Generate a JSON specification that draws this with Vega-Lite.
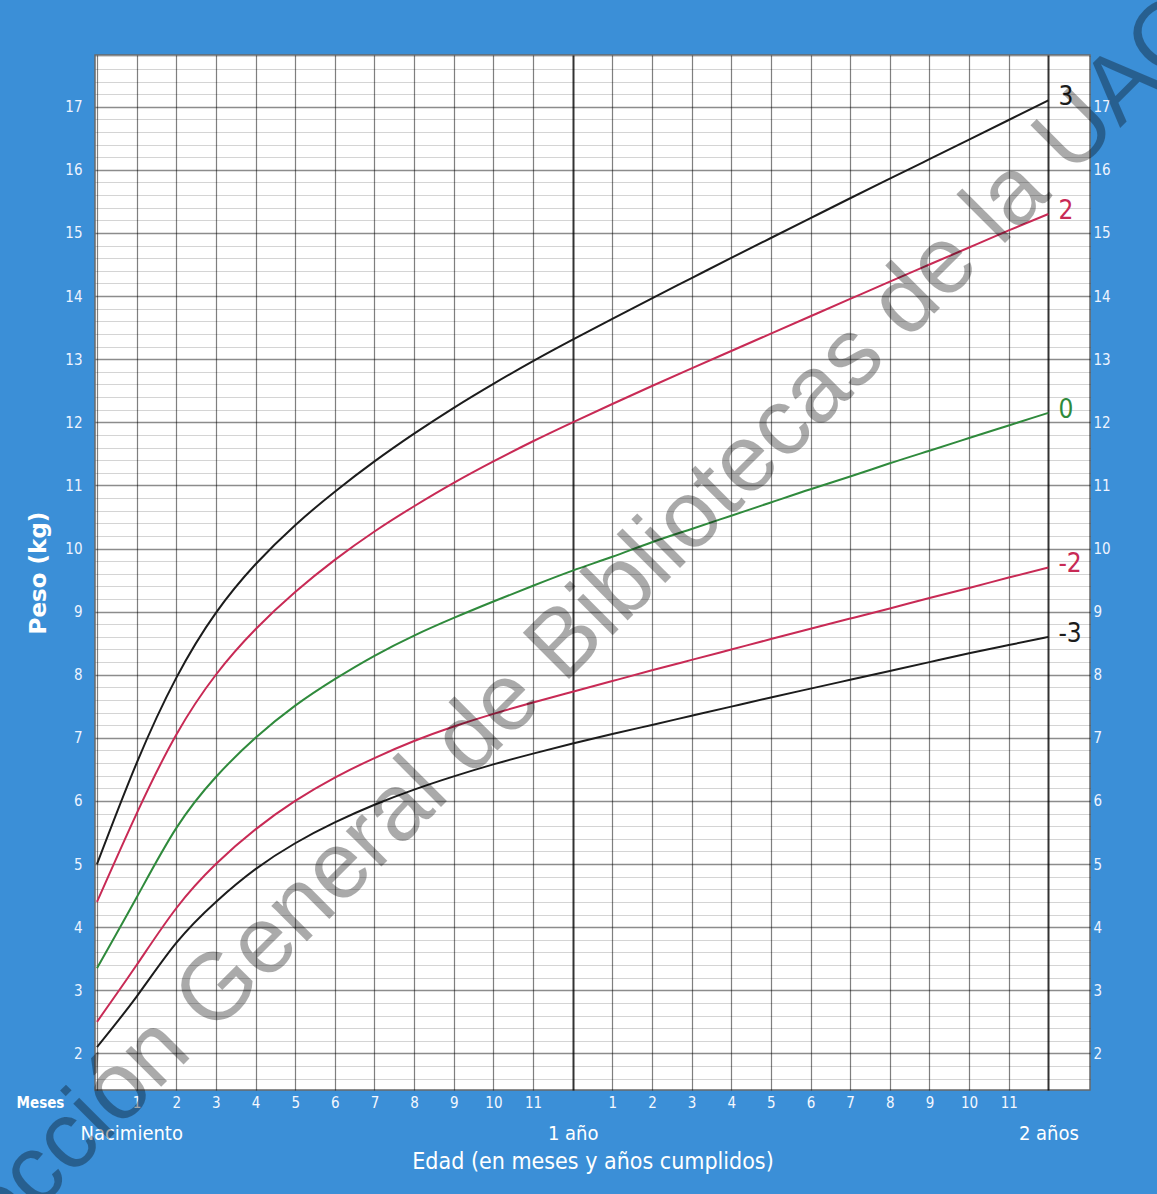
{
  "$schema": "https://vega.github.io/schema/vega-lite/v6.json",
  "autosize": "none",
  "width": 995,
  "height": 1035,
  "padding": {"left": 95, "top": 55, "right": 67, "bottom": 104},
  "background": "#3b8fd7",
  "config": {
    "view": {"fill": "white", "stroke": "#6a6a6a", "strokeWidth": 1.5},
    "font": "Liberation Sans Narrow, DejaVu Sans Condensed, sans-serif",
    "axis": {"labelFont": "Liberation Sans Narrow, DejaVu Sans Condensed, sans-serif", "titleFont": "Liberation Sans Narrow, DejaVu Sans Condensed, sans-serif"}
  },
  "datasets": {
    "curves": [
      {"m":0,"z":"-3","w":2.1},{"m":0,"z":"-2","w":2.5},{"m":0,"z":"0","w":3.35},{"m":0,"z":"2","w":4.4},{"m":0,"z":"3","w":5.0},
      {"m":1,"z":"-3","w":2.9},{"m":1,"z":"-2","w":3.4},{"m":1,"z":"0","w":4.47},{"m":1,"z":"2","w":5.8},{"m":1,"z":"3","w":6.6},
      {"m":2,"z":"-3","w":3.75},{"m":2,"z":"-2","w":4.3},{"m":2,"z":"0","w":5.57},{"m":2,"z":"2","w":7.05},{"m":2,"z":"3","w":7.95},
      {"m":3,"z":"-3","w":4.4},{"m":3,"z":"-2","w":5.0},{"m":3,"z":"0","w":6.38},{"m":3,"z":"2","w":8.0},{"m":3,"z":"3","w":8.98},
      {"m":4,"z":"-3","w":4.92},{"m":4,"z":"-2","w":5.55},{"m":4,"z":"0","w":7.0},{"m":4,"z":"2","w":8.72},{"m":4,"z":"3","w":9.75},
      {"m":5,"z":"-3","w":5.33},{"m":5,"z":"-2","w":6.0},{"m":5,"z":"0","w":7.51},{"m":5,"z":"2","w":9.31},{"m":5,"z":"3","w":10.37},
      {"m":6,"z":"-3","w":5.66},{"m":6,"z":"-2","w":6.37},{"m":6,"z":"0","w":7.93},{"m":6,"z":"2","w":9.82},{"m":6,"z":"3","w":10.9},
      {"m":7,"z":"-3","w":5.94},{"m":7,"z":"-2","w":6.68},{"m":7,"z":"0","w":8.3},{"m":7,"z":"2","w":10.27},{"m":7,"z":"3","w":11.38},
      {"m":8,"z":"-3","w":6.18},{"m":8,"z":"-2","w":6.95},{"m":8,"z":"0","w":8.62},{"m":8,"z":"2","w":10.67},{"m":8,"z":"3","w":11.82},
      {"m":9,"z":"-3","w":6.39},{"m":9,"z":"-2","w":7.18},{"m":9,"z":"0","w":8.9},{"m":9,"z":"2","w":11.04},{"m":9,"z":"3","w":12.23},
      {"m":10,"z":"-3","w":6.58},{"m":10,"z":"-2","w":7.38},{"m":10,"z":"0","w":9.16},{"m":10,"z":"2","w":11.38},{"m":10,"z":"3","w":12.61},
      {"m":11,"z":"-3","w":6.75},{"m":11,"z":"-2","w":7.56},{"m":11,"z":"0","w":9.41},{"m":11,"z":"2","w":11.7},{"m":11,"z":"3","w":12.97},
      {"m":12,"z":"-3","w":6.91},{"m":12,"z":"-2","w":7.73},{"m":12,"z":"0","w":9.65},{"m":12,"z":"2","w":12.0},{"m":12,"z":"3","w":13.31},
      {"m":13,"z":"-3","w":7.06},{"m":13,"z":"-2","w":7.9},{"m":13,"z":"0","w":9.87},{"m":13,"z":"2","w":12.29},{"m":13,"z":"3","w":13.64},
      {"m":14,"z":"-3","w":7.205},{"m":14,"z":"-2","w":8.07},{"m":14,"z":"0","w":10.1},{"m":14,"z":"2","w":12.575},{"m":14,"z":"3","w":13.965},
      {"m":15,"z":"-3","w":7.35},{"m":15,"z":"-2","w":8.235},{"m":15,"z":"0","w":10.31},{"m":15,"z":"2","w":12.855},{"m":15,"z":"3","w":14.285},
      {"m":16,"z":"-3","w":7.495},{"m":16,"z":"-2","w":8.4},{"m":16,"z":"0","w":10.52},{"m":16,"z":"2","w":13.13},{"m":16,"z":"3","w":14.605},
      {"m":17,"z":"-3","w":7.64},{"m":17,"z":"-2","w":8.565},{"m":17,"z":"0","w":10.73},{"m":17,"z":"2","w":13.405},{"m":17,"z":"3","w":14.92},
      {"m":18,"z":"-3","w":7.78},{"m":18,"z":"-2","w":8.73},{"m":18,"z":"0","w":10.94},{"m":18,"z":"2","w":13.68},{"m":18,"z":"3","w":15.235},
      {"m":19,"z":"-3","w":7.92},{"m":19,"z":"-2","w":8.89},{"m":19,"z":"0","w":11.14},{"m":19,"z":"2","w":13.955},{"m":19,"z":"3","w":15.55},
      {"m":20,"z":"-3","w":8.06},{"m":20,"z":"-2","w":9.05},{"m":20,"z":"0","w":11.35},{"m":20,"z":"2","w":14.23},{"m":20,"z":"3","w":15.86},
      {"m":21,"z":"-3","w":8.2},{"m":21,"z":"-2","w":9.215},{"m":21,"z":"0","w":11.55},{"m":21,"z":"2","w":14.5},{"m":21,"z":"3","w":16.17},
      {"m":22,"z":"-3","w":8.34},{"m":22,"z":"-2","w":9.375},{"m":22,"z":"0","w":11.75},{"m":22,"z":"2","w":14.77},{"m":22,"z":"3","w":16.48},
      {"m":23,"z":"-3","w":8.47},{"m":23,"z":"-2","w":9.54},{"m":23,"z":"0","w":11.95},{"m":23,"z":"2","w":15.04},{"m":23,"z":"3","w":16.79},
      {"m":24,"z":"-3","w":8.6},{"m":24,"z":"-2","w":9.7},{"m":24,"z":"0","w":12.15},{"m":24,"z":"2","w":15.3},{"m":24,"z":"3","w":17.1}
    ],
    "watermark": [
      {"m": 11.3, "w": 8.2, "t": "Dirección General de Bibliotecas de la UAQ"}
    ]
  },
  "data": {"name": "curves"},
  "layer": [
    {
      "mark": {"type": "line", "interpolate": "natural", "strokeWidth": 2},
      "encoding": {
        "x": {
          "field": "m", "type": "quantitative",
          "scale": {"domain": [-0.05, 25.05], "nice": false, "zero": false},
          "axis": {
            "orient": "bottom", "offset": 30,
            "values": [0, 12, 24],
            "labelExpr": "datum.value == 0 ? 'Nacimiento' : (datum.value == 12 ? '1 año' : '2 años')",
            "labelAlign": {"condition": {"test": "datum.value == 0", "value": "left"}, "value": "center"},
            "labelOffset": {"condition": {"test": "datum.value == 0", "value": -17}, "value": 0},
            "labelFontSize": 20, "labelColor": "white", "labelPadding": 3,
            "labelFlush": false, "labelOverlap": false, "labelBound": false,
            "ticks": false, "domain": false, "grid": false,
            "title": "Edad (en meses y años cumplidos)", "titleColor": "white", "titleFontSize": 23,
            "titleFontWeight": "normal", "titlePadding": 7
          }
        },
        "y": {
          "field": "w", "type": "quantitative",
          "scale": {"domain": [1.42, 17.82], "nice": false, "zero": false},
          "axis": {
            "orient": "left",
            "values": [1.6,1.8,2,2.2,2.4,2.6,2.8,3,3.2,3.4,3.6,3.8,4,4.2,4.4,4.6,4.8,5,5.2,5.4,5.6,5.8,6,6.2,6.4,6.6,6.8,7,7.2,7.4,7.6,7.8,8,8.2,8.4,8.6,8.8,9,9.2,9.4,9.6,9.8,10,10.2,10.4,10.6,10.8,11,11.2,11.4,11.6,11.8,12,12.2,12.4,12.6,12.8,13,13.2,13.4,13.6,13.8,14,14.2,14.4,14.6,14.8,15,15.2,15.4,15.6,15.8,16,16.2,16.4,16.6,16.8,17,17.2,17.4,17.6,17.8],
            "labelExpr": "datum.value % 1 == 0 ? datum.value : ''",
            "labelFontSize": 15, "labelColor": "#eef4ff", "labelPadding": 13,
            "labelOverlap": false, "labelFlush": false, "labelBound": false,
            "ticks": false, "domain": false,
            "grid": true,
            "gridColor": "black",
            "gridOpacity": {"condition": {"test": "datum.value % 1 == 0", "value": 0.45}, "value": 0.17},
            "gridWidth": {"condition": {"test": "datum.value % 1 == 0", "value": 1.6}, "value": 1},
            "title": "Peso (kg)", "titleColor": "white", "titleFontSize": 23, "titleFontWeight": "bold",
            "titleFont": "DejaVu Sans", "titlePadding": 14
          }
        },
        "color": {
          "field": "z", "type": "nominal",
          "scale": {"domain": ["3","2","0","-2","-3"], "range": ["#1c1c1c","#c82a55","#2f8a3c","#c82a55","#1c1c1c"]},
          "legend": null
        }
      }
    },
    {
      "transform": [{"filter": "datum.m == 24"}],
      "mark": {"type": "text", "align": "left", "baseline": "middle", "dx": 10, "dy": -3, "fontSize": 26, "font": "Liberation Sans Narrow, DejaVu Sans Condensed, sans-serif"},
      "encoding": {
        "x": {
          "field": "m", "type": "quantitative",
          "axis": {
            "orient": "bottom",
            "values": [0,1,2,3,4,5,6,7,8,9,10,11,12,13,14,15,16,17,18,19,20,21,22,23,24],
            "labelExpr": "datum.value > 0 && datum.value < 12 ? datum.value : (datum.value > 12 && datum.value < 24 ? datum.value - 12 : '')",
            "labelFontSize": 15, "labelColor": "#f4f8ff", "labelPadding": 5,
            "labelFlush": false, "labelOverlap": false, "labelBound": false,
            "ticks": false, "domain": false,
            "grid": true,
            "gridColor": "black",
            "gridOpacity": {"condition": {"test": "datum.value == 12 || datum.value == 24", "value": 0.8}, "value": 0.5},
            "gridWidth": {"condition": {"test": "datum.value == 12 || datum.value == 24", "value": 2}, "value": 1.2},
            "title": "Meses", "titleColor": "white", "titleFontSize": 15, "titleFontWeight": "bold",
            "titleX": -55, "titleY": 12, "titleAlign": "center", "titleBaseline": "middle", "titleAngle": 0
          }
        },
        "y": {
          "field": "w", "type": "quantitative",
          "axis": {
            "orient": "right",
            "values": [2,3,4,5,6,7,8,9,10,11,12,13,14,15,16,17],
            "labelFontSize": 15, "labelColor": "#eef4ff", "labelPadding": 3,
            "labelOverlap": false, "labelFlush": false, "labelBound": false,
            "ticks": false, "domain": false, "grid": false, "title": null
          }
        },
        "text": {"field": "z"},
        "color": {"field": "z", "type": "nominal", "legend": null}
      }
    },
    {
      "data": {"name": "watermark"},
      "mark": {"type": "text", "angle": -45, "fontSize": 95, "font": "Liberation Sans, Arial, sans-serif", "align": "center", "baseline": "middle", "color": "black", "opacity": 0.33},
      "encoding": {
        "x": {"field": "m", "type": "quantitative", "axis": null},
        "y": {"field": "w", "type": "quantitative", "axis": null},
        "text": {"field": "t"}
      }
    }
  ],
  "resolve": {"axis": {"x": "independent", "y": "independent"}}
}
